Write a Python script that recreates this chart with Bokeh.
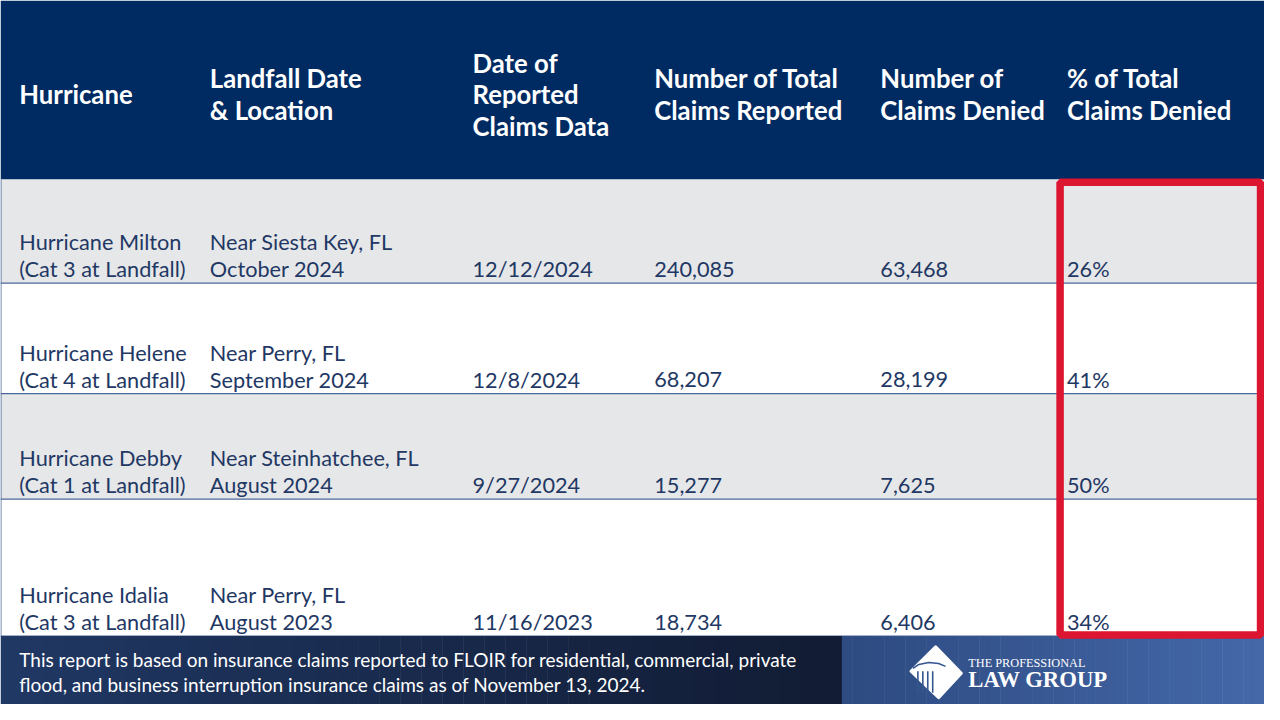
from bokeh.plotting import figure
from bokeh.models import Range1d
from bokeh.core.properties import value
from bokeh.embed import file_html
from bokeh.resources import INLINE

# ---------------- data ----------------
headers = ["Hurricane", "Landfall Date\n& Location", "Date of\nReported\nClaims Data",
           "Number of Total\nClaims Reported", "Number of\nClaims Denied", "% of Total\nClaims Denied"]
hurricanes = ["Hurricane Milton", "Hurricane Helene", "Hurricane Debby", "Hurricane Idalia"]
categories = ["(Cat 3 at Landfall)", "(Cat 4 at Landfall)", "(Cat 1 at Landfall)", "(Cat 3 at Landfall)"]
locations = ["Near Siesta Key, FL", "Near Perry, FL", "Near Steinhatchee, FL", "Near Perry, FL"]
landfall_months = ["October 2024", "September 2024", "August 2024", "August 2023"]
report_dates = ["12/12/2024", "12/8/2024", "9/27/2024", "11/16/2023"]
total_claims = [240085, 68207, 15277, 18734]
denied_claims = [63468, 28199, 7625, 6406]
pct_denied = ["26%", "41%", "50%", "34%"]
footer_lines = ["This report is based on insurance claims reported to FLOIR for residential, commercial, private",
                "flood, and business interruption insurance claims as of November 13, 2024."]
logo_lines = ["THE PROFESSIONAL", "LAW GROUP"]

# ---------------- layout ----------------
W, H = 1280, 720
col_x = [19, 212, 478, 662, 891, 1080]
row_top = [183, 289, 402, 510]
row_bot = [289, 402, 510, 650]
row_fill = ["#E6E7E9", "#FFFFFF", "#E6E7E9", "#FFFFFF"]
NAVY = "#002B62"
TEXT = "#1F3864"
SCALE = 1264 / 1280
BODY_FONT = "Lato"

def fs(px):
    return f"{px * SCALE:.1f}px"

p = figure(width=1264, height=704, x_range=Range1d(0, W), y_range=Range1d(H, 0),
           output_backend="svg", toolbar_location=None, min_border=0)
p.axis.visible = False
p.grid.visible = False
p.outline_line_color = None
p.background_fill_color = "white"
p.border_fill_color = "white"

# header band
p.quad(left=[0], right=[W], top=[0], bottom=[183], fill_color=NAVY, line_color=None)

# rows
p.quad(left=[0] * 4, right=[W] * 4, top=row_top, bottom=row_bot, fill_color=row_fill, line_color=None)
p.segment(x0=[0] * 4, x1=[W] * 4, y0=row_bot, y1=row_bot, line_color="#4A6799", line_width=1.2)
p.segment(x0=[0.5], x1=[0.5], y0=[183], y1=[650], line_color="#4A6799", line_width=1)

# header texts
hx, hy, ht = [], [], []
for cx, h in zip(col_x, headers):
    lines = h.split("\n")
    n = len(lines)
    for i, ln in enumerate(lines):
        hx.append(cx)
        hy.append(96 + (i - (n - 1) / 2) * 32.5)
        ht.append(ln)
p.text(x=hx, y=hy, text=ht, text_color="white", text_font=value(BODY_FONT), text_font_style="bold",
       text_font_size=fs(26), text_baseline="middle", text_align="left")

# body texts
line1_y = [b - 42 for b in row_bot]
line2_y = [b - 14 for b in row_bot]
bx, by, bt = [], [], []
for i in range(4):
    bx += [col_x[0], col_x[0], col_x[1], col_x[1]]
    by += [line1_y[i], line2_y[i], line1_y[i], line2_y[i]]
    bt += [hurricanes[i], categories[i], locations[i], landfall_months[i]]
    vals = [report_dates[i], f"{total_claims[i]:,}", f"{denied_claims[i]:,}", pct_denied[i]]
    for c, v in zip(col_x[2:], vals):
        bx.append(c)
        by.append(line2_y[i])
        bt.append(v)
p.text(x=bx, y=by, text=bt, text_color=TEXT, text_font=value(BODY_FONT),
       text_font_size=fs(22), text_baseline="middle", text_align="left")

# footer background gradients (strips)
def gradient(x0, x1, c0, c1, n=40):
    lefts, rights, cols = [], [], []
    for k in range(n):
        t = k / (n - 1)
        r = int(c0[0] + (c1[0] - c0[0]) * t)
        g = int(c0[1] + (c1[1] - c0[1]) * t)
        b = int(c0[2] + (c1[2] - c0[2]) * t)
        lefts.append(x0 + (x1 - x0) * k / n)
        rights.append(x0 + (x1 - x0) * (k + 1) / n + 0.5)
        cols.append(f"#{r:02x}{g:02x}{b:02x}")
    p.quad(left=lefts, right=rights, top=[650] * n, bottom=[H] * n, fill_color=cols, line_color=None)

gradient(0, 852, (32, 56, 100), (18, 28, 52))
gradient(852, W, (46, 75, 130), (68, 104, 168))

p.text(x=[19, 19], y=[674, 700], text=footer_lines, text_color="white", text_font=value(BODY_FONT),
       text_font_size=fs(19.2), text_baseline="middle", text_align="left")

# logo icon (white diamond with fluted column)
p.patch(x=[947, 973, 950, 922], y=[661, 688, 713, 686], fill_color="white", line_color="white",
        line_width=3, line_join="round")
p.segment(x0=[929, 934, 939, 944], x1=[929, 934, 939, 944], y0=[686, 686, 686, 686],
          y1=[708, 708, 708, 708], line_color="#35558F", line_width=1.6)
p.line(x=[924, 930, 940, 950, 957], y=[683, 679, 677, 678, 681], line_color="#35558F", line_width=1.6)
p.text(x=[980], y=[678], text=[logo_lines[0]], text_color="white", text_font=value("Liberation Serif"),
       text_font_size=fs(12.5), text_baseline="middle", text_align="left")
p.text(x=[980], y=[694], text=[logo_lines[1]], text_color="white", text_font=value("Liberation Serif"),
       text_font_style="bold", text_font_size=fs(23), text_baseline="middle", text_align="left")

# red highlight box around the % column
p.quad(left=[1073], right=[1276], top=[186], bottom=[649], fill_color=None,
       line_color="#DC1530", line_width=7.5)

open("out.html", "w").write(file_html(p, INLINE))
